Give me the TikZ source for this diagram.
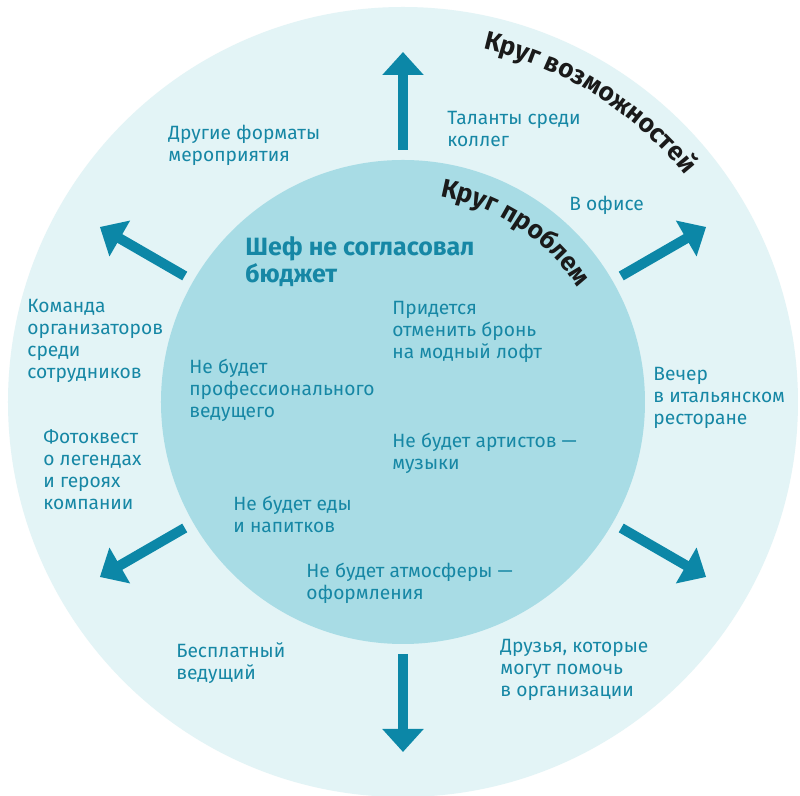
\documentclass[tikz,border=0pt]{standalone}
\usepackage{fontspec}
\setmainfont{Fira Sans}
\usetikzlibrary{arrows.meta,decorations.text}

\definecolor{outerbg}{HTML}{E3F4F6}
\definecolor{innerbg}{HTML}{A8DCE5}
\definecolor{seablue}{HTML}{0C87A7}
\definecolor{seatext}{HTML}{1687A5}
\definecolor{ringink}{HTML}{1A1A1A}

\newcommand\ringfont{\fontsize{13}{15}\selectfont\bfseries}

\begin{document}
\begin{tikzpicture}[x=0.5pt,y=0.5pt,
idea/.style={anchor=base west, align=left, inner sep=0pt, text=seatext,
  font=\fontsize{9.6}{11}\selectfont},
chief/.style={idea, font=\fontsize{12.5}{13.5}\selectfont\bfseries},
bigarrow/.style={draw=seablue, line width=5pt, -{Triangle[length=11.5pt,width=20pt]}},
ringlabel/.style={decorate, decoration={text along path, text align=center,
  text color=ringink, text={|\ringfont|#1}}},
]
\useasboundingbox (-403,-394) rectangle (397,402);
\fill[white] (-403,-394) rectangle (397,402);

% circles
\fill[outerbg] (0,0) circle[radius=395];
\fill[innerbg] (0,0) circle[radius=242];

% ring titles
\path[ringlabel={Круг возможностей}] (78:362) arc[start angle=78, end angle=38, radius=362];
\path[ringlabel={Круг проблем}] (79:209) arc[start angle=79, end angle=34, radius=209];

% arrows
\foreach \a/\n in {90/n,30/ne,-30/se,-90/s,-150/sw,150/nw}{
  \coordinate (\n0) at (\a:252);
  \coordinate (\n1) at (\a:350);
  \draw[bigarrow] (\n0) -- (\n1);
}

% opportunities (placed at the last line)
\node[idea] (talents) at (44,255) {Таланты среди\\коллег};
\node[idea] (formats) at (-235,240) {Другие форматы\\мероприятия};
\node[idea] (office) at (166,191) {В офисе};
\node[idea] (team) at (-376,23) {Команда\\организаторов\\среди\\сотрудников};
\node[idea] (evening) at (250,-23) {Вечер\\в итальянском\\ресторане};
\node[idea] (quest) at (-360,-108) {Фотоквест\\о легендах\\и героях\\компании};
\node[idea] (freehost) at (-227,-278) {Бесплатный\\ведущий};
\node[idea] (friends) at (97,-295) {Друзья, которые\\могут помочь\\в организации};

% problems
\node[chief] (chef) at (-158,119) {Шеф не согласовал\\бюджет};
\node[idea] (loft) at (-11,43) {Придется\\отменить бронь\\на модный лофт};
\node[idea] (host) at (-214,-16) {Не будет\\профессионального\\ведущего};
\node[idea] (artists) at (-11,-68) {Не будет артистов —\\музыки};
\node[idea] (food) at (-170,-131) {Не будет еды\\и напитков};
\node[idea] (decor) at (-97,-198) {Не будет атмосферы —\\оформления};

\end{tikzpicture}
\end{document}
